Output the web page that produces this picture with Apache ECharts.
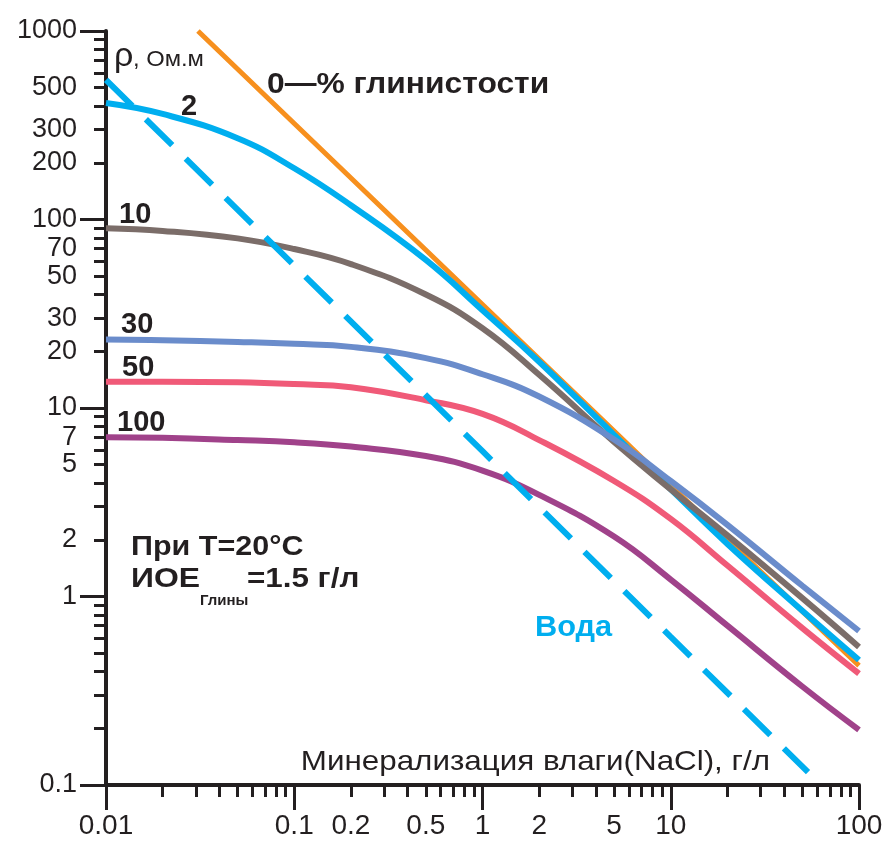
<!DOCTYPE html>
<html><head><meta charset="utf-8">
<script src="https://cdn.jsdelivr.net/npm/echarts@6/dist/echarts.min.js"></script>
<style>html,body{margin:0;padding:0;background:#fff}#c{width:896px;height:845px}</style>
</head><body><div id="c"></div>
<script>
// ---- tick values ----
const xLabelValues = [0.01, 0.1, 0.2, 0.5, 1, 2, 5, 10, 100];
const yLabelValues = [0.1, 1, 2, 5, 7, 10, 20, 30, 50, 70, 100, 200, 300, 500, 1000];
const xDecades = [0.01, 0.1, 1, 10, 100];
const yDecades = [0.1, 1, 10, 100, 1000];
const minorSteps = [2, 3, 4, 5, 6, 7, 8, 9];

// ---- series (x: mineralization g/l, y: resistivity Ohm.m) ----
const conc   = [0.01, 0.02, 0.05, 0.1, 0.2, 0.5, 1, 2, 5, 10, 20, 50, 100];
const rho2   = [415, 363, 270, 187, 119, 61, 33, 17.6, 7.2, 3.7, 1.9, 0.84, 0.46];
const rho10  = [89.8, 87, 79.4, 69.7, 58, 40, 26.5, 15, 6.6, 3.7, 2.11, 0.98, 0.54];
const rho30  = [23.1, 22.9, 22.4, 21.9, 21.1, 18.4, 15.1, 11.5, 6.8, 4.1, 2.4, 1.14, 0.656];
const rho50  = [13.8, 13.8, 13.7, 13.4, 12.9, 11.0, 9.3, 6.76, 4.1, 2.58, 1.46, 0.68, 0.39];
const rho100 = [7.0, 6.95, 6.76, 6.58, 6.24, 5.56, 4.65, 3.46, 2.08, 1.23, 0.70, 0.333, 0.196];
const water  = [[0.01, 550], [0.1, 57], [1, 5.9], [10, 0.61], [53.6, 0.117]];
const clay0  = [[0.0308, 1000], [0.1, 323], [1, 35.4], [10, 3.88], [100, 0.43]];

const INK = '#231f20';
const FONT = 'Liberation Sans, Arial, Helvetica, sans-serif';

function minorOf(decades) {
  const out = [];
  decades.slice(0, -1).forEach(d => minorSteps.forEach(k => out.push(+(d * k).toPrecision(6))));
  return out;
}
const fmt = v => String(+(+v).toPrecision(6));
const pairs = ys => conc.map((c, i) => [c, ys[i]]);

const chart = echarts.init(document.getElementById('c'));

function logAxis(kind, min, max, tickVals, tickLen, labelVals, labelOpt) {
  return {
    type: 'log', logBase: 10, min: min, max: max, gridIndex: 0,
    position: kind === 'x' ? 'bottom' : 'left', offset: 0,
    axisLine: {show: !!labelVals, onZero: false, lineStyle: {color: INK, width: 4}},
    axisTick: {show: true, length: tickLen, customValues: tickVals, lineStyle: {color: INK, width: 3}},
    minorTick: {show: false},
    splitLine: {show: false}, minorSplitLine: {show: false},
    axisLabel: labelVals ? Object.assign({show: true, customValues: labelVals, formatter: fmt,
      color: INK, fontFamily: FONT}, labelOpt) : {show: false}
  };
}

const lineSeries = (name, data, color, extra) => Object.assign({
  name: name, type: 'line', data: data, smooth: 0.45, showSymbol: false, symbol: 'none',
  xAxisIndex: 0, yAxisIndex: 0, clip: true,
  lineStyle: {color: color, width: 6}
}, extra || {});

function txt(x, y, text, size, opts) {
  opts = opts || {};
  return {
    type: 'text', x: x, y: y, scaleX: opts.sx || 1,
    style: {text: text, fontSize: size, fontWeight: opts.bold ? 'bold' : 'normal', fontFamily: FONT,
      fill: opts.fill || INK, align: opts.align || 'left', verticalAlign: 'middle'}
  };
}

chart.setOption({
  animation: false,
  backgroundColor: '#ffffff',
  grid: {left: 106, right: 37, top: 31, bottom: 60, containLabel: false},
  xAxis: [
    logAxis('x', 0.01, 100, minorOf(xDecades), 12, xLabelValues, {fontSize: 28, margin: 27}),
    logAxis('x', 0.01, 100, xDecades, 25, null)
  ],
  yAxis: [
    logAxis('y', 0.1, 1000, minorOf(yDecades), 12, yLabelValues, {fontSize: 27, margin: 29}),
    logAxis('y', 0.1, 1000, yDecades, 26, null)
  ],
  series: [
    lineSeries('0%', clay0, '#f7901e', {smooth: false, lineStyle: {color: '#f7901e', width: 5}}),
    lineSeries('2%', pairs(rho2), '#00aeef'),
    lineSeries('10%', pairs(rho10), '#7b6d69'),
    lineSeries('30%', pairs(rho30), '#6a8ccb'),
    lineSeries('50%', pairs(rho50), '#f05a78'),
    lineSeries('100%', pairs(rho100), '#a0428a'),
    lineSeries('Вода', water, '#00aeef', {smooth: false, lineStyle: {color: '#00aeef', width: 6, type: [37, 19]}})
  ],
  graphic: [
    txt(114, 57, 'ρ', 34),
    txt(133, 60, ', Ом.м', 22, {sx: 1.08}),
    txt(267, 85, '0—% глинистости', 30, {bold: true, sx: 1.06}),
    txt(181, 107, '2', 29, {bold: true}),
    txt(119, 215, '10', 29, {bold: true}),
    txt(121, 325, '30', 29, {bold: true}),
    txt(122, 368, '50', 29, {bold: true}),
    txt(117, 423, '100', 29, {bold: true}),
    txt(131, 547, 'При T=20°C', 28, {bold: true, sx: 1.09}),
    txt(131, 579, 'ИОЕ', 28, {bold: true, sx: 1.14}),
    txt(200, 601, 'Глины', 15, {bold: true}),
    txt(247, 579, '=1.5 г/л', 28, {bold: true, sx: 1.12}),
    txt(535, 628, 'Вода', 29, {bold: true, fill: '#00aeef', sx: 1.06}),
    txt(770, 762, 'Минерализация влаги(NaCl), г/л', 28, {align: 'right', sx: 1.12})
  ]
});
</script></body></html>
